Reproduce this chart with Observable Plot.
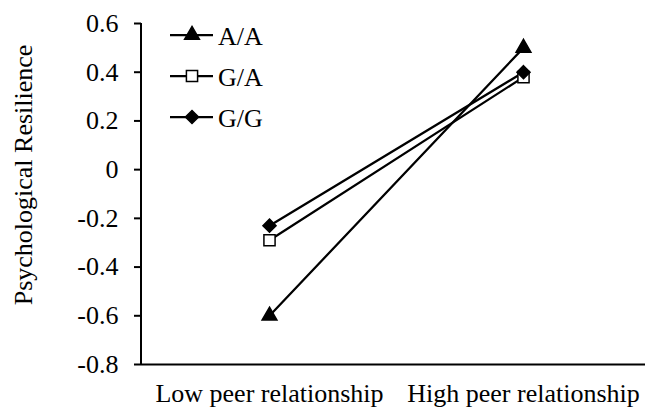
<!DOCTYPE html>
<html>
<head>
<meta charset="utf-8">
<script src="https://cdn.jsdelivr.net/npm/d3@7"></script>
<script src="https://cdn.jsdelivr.net/npm/@observablehq/plot@0.6"></script>
<style>
  body { margin: 0; background: #fff; }
  #chart { position: relative; width: 645px; height: 408px; }
  #chart svg { overflow: visible; }
  #chart svg text { font-family: "Liberation Serif", "Times New Roman", serif !important; font-size: 26px !important; font-variant: normal !important; }
  #legend { position: absolute; left: 0; top: 0; pointer-events: none; }
</style>
</head>
<body>
<div id="chart"></div>
<script>
// ---- data ----
const categories = ["Low peer relationship", "High peer relationship"];
const genotypes = ["A/A", "G/A", "G/G"];
const valuesAA = [-0.60, 0.50];
const valuesGA = [-0.29, 0.38];
const valuesGG = [-0.23, 0.40];
const yTicks = [-0.8, -0.6, -0.4, -0.2, 0, 0.2, 0.4, 0.6];
const yTitle = "Psychological Resilience";

const seriesValues = [valuesAA, valuesGA, valuesGG];
const rows = genotypes.flatMap((g, i) =>
  categories.map((c, j) => ({genotype: g, category: c, value: seriesValues[i][j]}))
);

const symbolOf = {"A/A": d3.symbolTriangle, "G/A": d3.symbolSquare, "G/G": d3.symbolDiamond2};
const fillOf = {"A/A": "black", "G/A": "white", "G/G": "black"};
const rOf = {"A/A": 5.5, "G/A": 6.3, "G/G": 5.9};

const fmt = d => d === 0 ? "0" : (d < 0 ? "-" : "") + Math.abs(d).toFixed(1);

const plot = Plot.plot({
  width: 645,
  height: 408,
  marginLeft: 141,
  marginRight: 0,
  marginTop: 23,
  marginBottom: 44,
  style: {fontFamily: '"Liberation Serif", "Times New Roman", serif', fontSize: "26px", color: "black", background: "white"},
  x: {type: "point", domain: categories, padding: 0.49, align: 0.51},
  y: {domain: [-0.8, 0.6]},
  marks: [
    Plot.axisY({ticks: yTicks, tickFormat: fmt, tickSize: 7, tickPadding: 16, strokeWidth: 2, label: null}),
    Plot.ruleY([-0.8], {stroke: "black", strokeWidth: 2}),
    Plot.axisX({tickSize: 0, tickPadding: 19, label: null}),
    Plot.text([yTitle], {frameAnchor: "left", rotate: -90, dx: -118, dy: -19, fill: "black", lineAnchor: "middle", textAnchor: "middle"}),
    Plot.line(rows, {x: "category", y: "value", z: "genotype", stroke: "black", strokeWidth: 2.25}),
    ...genotypes.map(g =>
      Plot.dot(rows.filter(d => d.genotype === g), {
        x: "category", y: "value",
        symbol: () => symbolOf[g],
        r: rOf[g],
        fill: fillOf[g],
        stroke: "black",
        strokeWidth: 1.5
      })
    )
  ]
});

const chart = document.getElementById("chart");
chart.appendChild(plot);

// ---- vertical axis line along the left edge of the frame ----
const yScale = plot.scale("y");
d3.select(plot).append("line")
  .attr("x1", 141).attr("x2", 141)
  .attr("y1", yScale.apply(-0.8) + 1).attr("y2", yScale.apply(0.6))
  .attr("stroke", "black").attr("stroke-width", 2);

// ---- legend (inside the plot area, top-left) ----
const legend = d3.select(chart).append("svg")
  .attr("id", "legend")
  .attr("width", 300).attr("height", 140);
const rowY = [35, 76, 117];
genotypes.forEach((g, i) => {
  const gEl = legend.append("g").attr("transform", `translate(0,${rowY[i]})`);
  gEl.append("line").attr("x1", 170).attr("x2", 213).attr("y1", 0).attr("y2", 0)
    .attr("stroke", "black").attr("stroke-width", 2.25);
  gEl.append("path")
    .attr("transform", "translate(192,0)")
    .attr("d", d3.symbol(symbolOf[g], Math.PI * rOf[g] * rOf[g])())
    .attr("fill", fillOf[g]).attr("stroke", "black").attr("stroke-width", 1.5);
  gEl.append("text").attr("x", 218).attr("y", 10)
    .attr("fill", "black")
    .text(g);
});
</script>
</body>
</html>
